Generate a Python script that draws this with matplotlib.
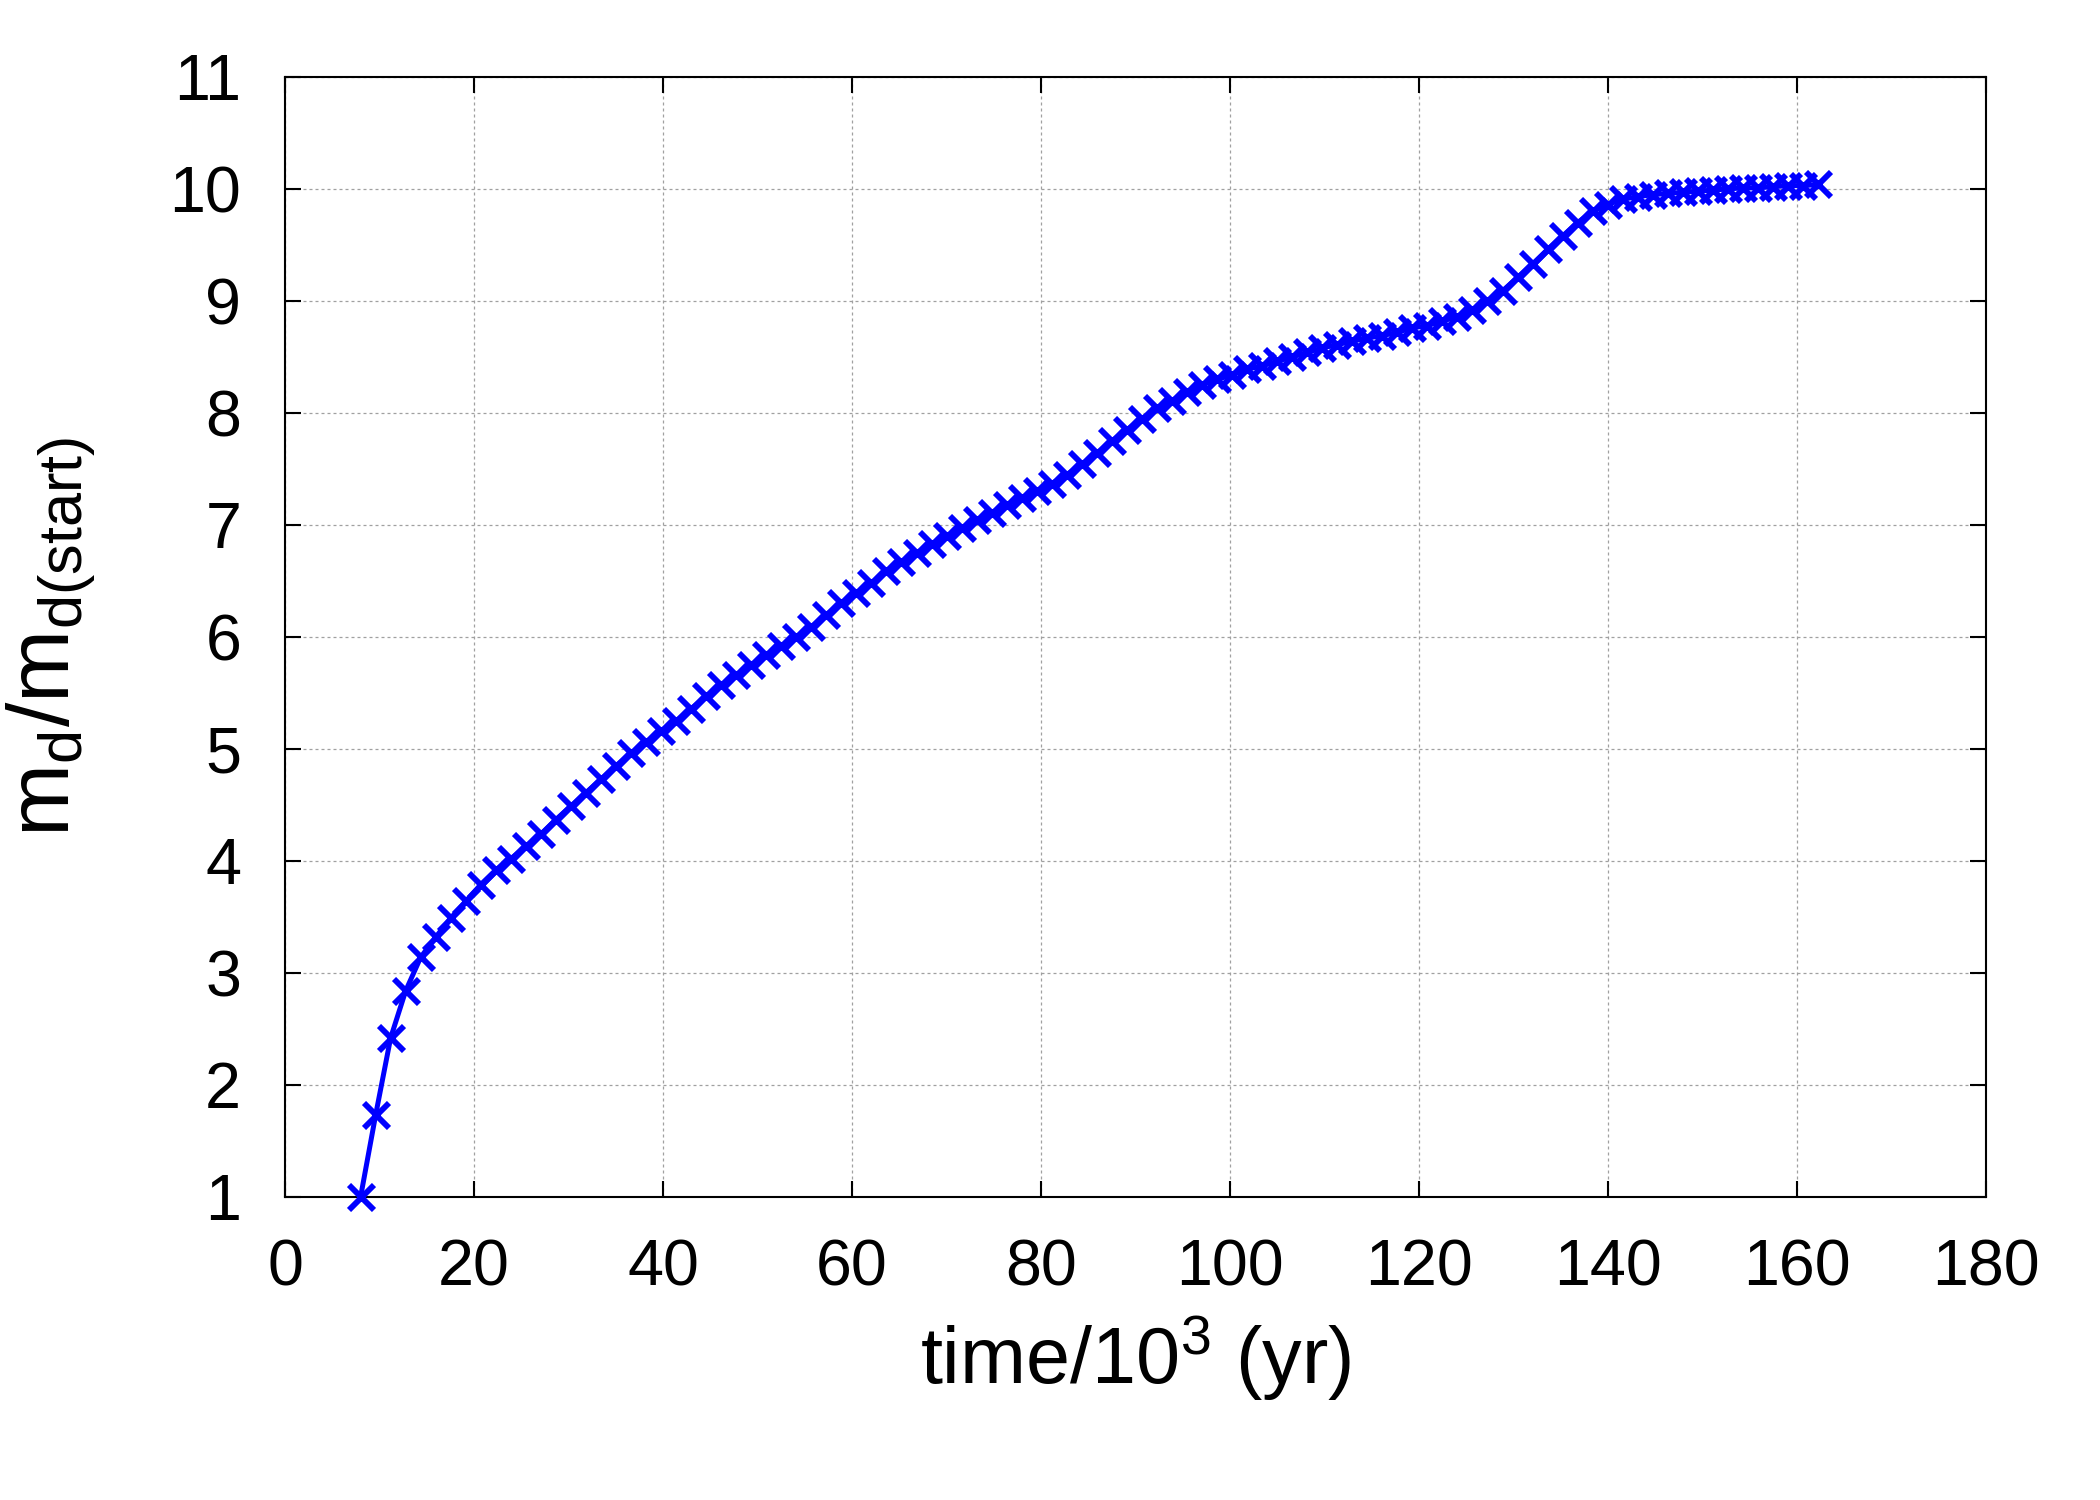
import matplotlib
matplotlib.use("Agg")
import matplotlib.pyplot as plt

# time in 10^3 yr
time_kyr = [
    8.00, 9.59, 11.18, 12.77, 14.36, 15.95, 17.54, 19.13, 20.72, 22.31,
    23.90, 25.49, 27.08, 28.67, 30.26, 31.85, 33.44, 35.03, 36.62, 38.21,
    39.80, 41.39, 42.98, 44.57, 46.16, 47.75, 49.34, 50.93, 52.52, 54.11,
    55.70, 57.29, 58.88, 60.47, 62.06, 63.65, 65.24, 66.83, 68.42, 70.01,
    71.60, 73.19, 74.78, 76.37, 77.96, 79.55, 81.14, 82.73, 84.32, 85.91,
    87.50, 89.09, 90.68, 92.27, 93.86, 95.45, 97.04, 98.63, 100.22, 101.81,
    103.40, 104.99, 106.58, 108.17, 109.76, 111.35, 112.94, 114.53, 116.12, 117.71,
    119.30, 120.89, 122.48, 124.07, 125.66, 127.25, 128.84, 130.43, 132.02, 133.61,
    135.20, 136.79, 138.38, 139.97, 141.56, 143.15, 144.74, 146.33, 147.92, 149.51,
    151.10, 152.69, 154.28, 155.87, 157.46, 159.05, 160.64, 162.23,
]

# m_d / m_d(start)
mass_ratio = [
    1.00, 1.73, 2.42, 2.84, 3.14, 3.32, 3.49, 3.64, 3.79, 3.92,
    4.02, 4.13, 4.24, 4.37, 4.49, 4.61, 4.73, 4.85, 4.96, 5.06,
    5.16, 5.25, 5.36, 5.47, 5.57, 5.66, 5.75, 5.84, 5.92, 6.00,
    6.09, 6.20, 6.30, 6.39, 6.48, 6.59, 6.67, 6.75, 6.83, 6.90,
    6.97, 7.04, 7.11, 7.18, 7.24, 7.30, 7.37, 7.45, 7.54, 7.64,
    7.75, 7.85, 7.95, 8.04, 8.11, 8.19, 8.25, 8.30, 8.34, 8.39,
    8.42, 8.46, 8.50, 8.54, 8.58, 8.61, 8.64, 8.67, 8.69, 8.72,
    8.76, 8.78, 8.82, 8.86, 8.92, 9.00, 9.09, 9.21, 9.33, 9.46,
    9.58, 9.70, 9.80, 9.86, 9.91, 9.93, 9.95, 9.96, 9.97, 9.98,
    9.99, 10.00, 10.01, 10.01, 10.02, 10.03, 10.03, 10.04,
]

x_ticks = [0, 20, 40, 60, 80, 100, 120, 140, 160, 180]
y_ticks = [1, 2, 3, 4, 5, 6, 7, 8, 9, 10, 11]

plt.rcParams['font.family'] = ['Liberation Sans', 'DejaVu Sans']
plt.rcParams['mathtext.fontset'] = 'custom'
plt.rcParams['mathtext.rm'] = 'Liberation Sans'
plt.rcParams['mathtext.it'] = 'Liberation Sans'

fig = plt.figure(figsize=(14, 10), dpi=150)
ax = fig.add_axes([0.1357, 0.202, 0.8100, 0.7467])

ax.plot(time_kyr, mass_ratio, color='#0000ff', linewidth=2.4,
        marker='x', markersize=12, markeredgewidth=2.8, zorder=3,
        clip_on=False)

ax.set_xlim(0, 180)
ax.set_ylim(1, 11)
ax.set_xticks(x_ticks)
ax.set_yticks(y_ticks)

ax.grid(True, color='#a0a0a0', linewidth=0.6, linestyle=(0, (2.4, 2.4)))
ax.set_axisbelow(True)

ax.tick_params(direction='in', length=7.5, width=1.0, top=True, right=True,
               labelsize=31)
ax.tick_params(axis='x', pad=20)
ax.tick_params(axis='y', pad=21)
for sp in ax.spines.values():
    sp.set_linewidth(1.0)

ax.set_xlabel(r'time/10$^3$ (yr)', fontsize=38, labelpad=7)
ax.set_ylabel(r'm$_{\rm d}$/m$_{\rm d(start)}$', fontsize=42, labelpad=34)

fig.savefig('out.png', dpi=150)
